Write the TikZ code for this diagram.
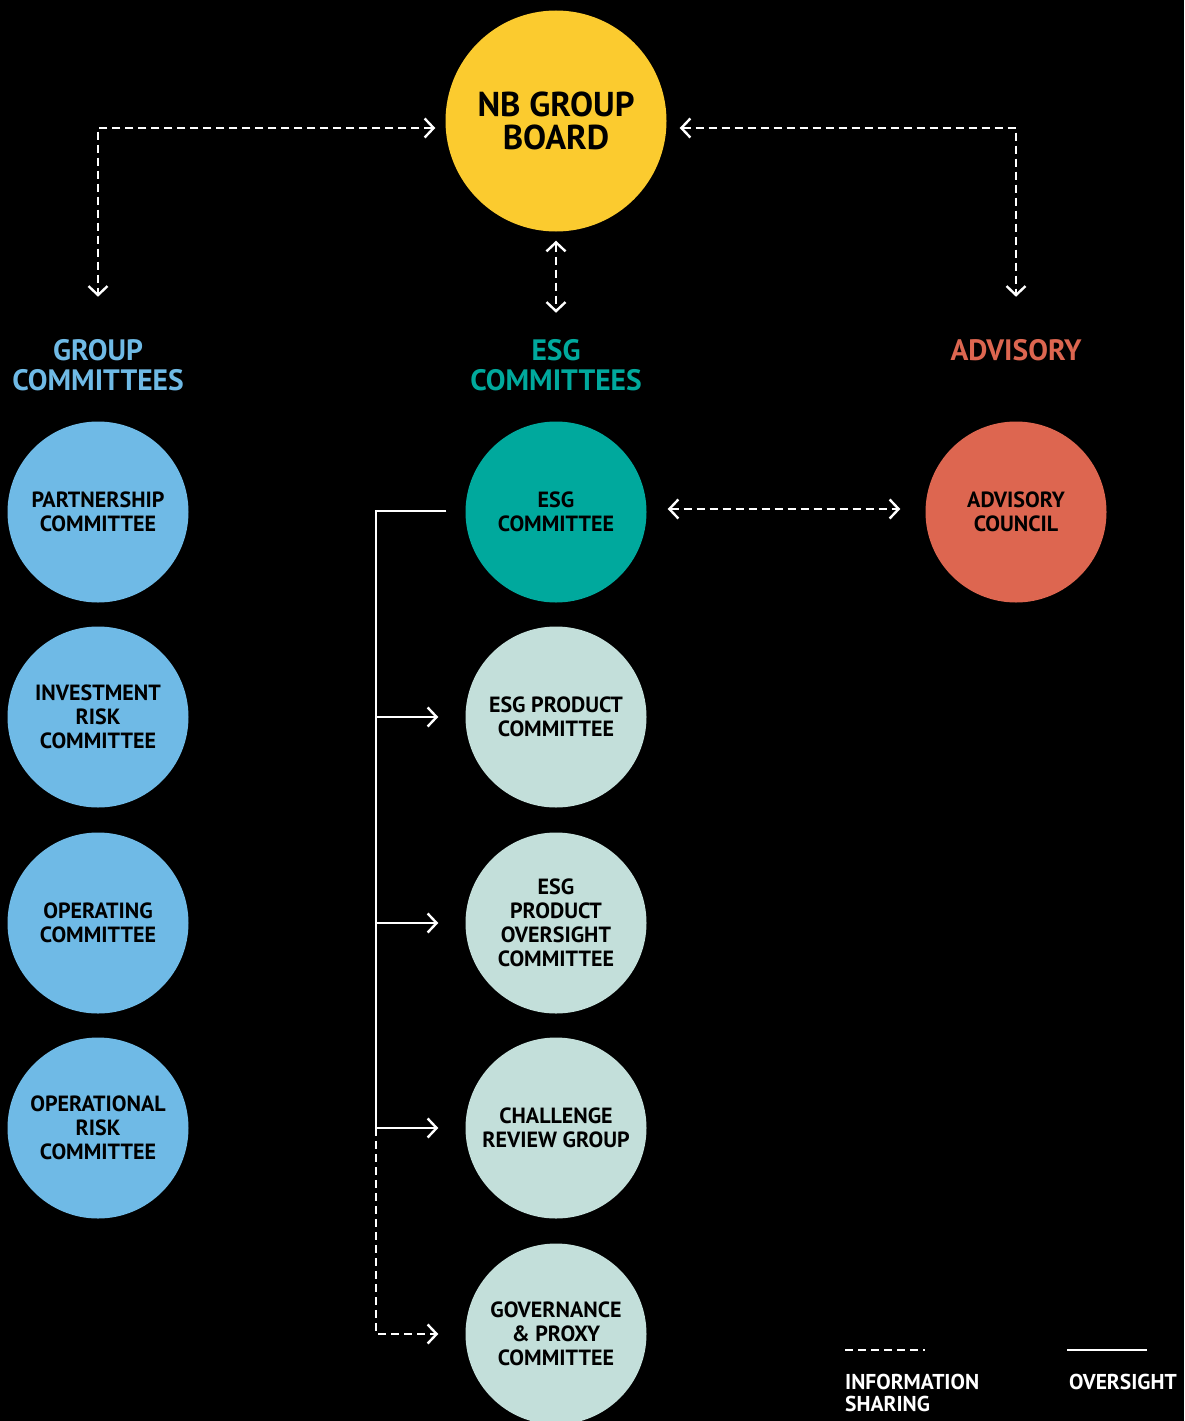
\documentclass[tikz,border=0pt]{standalone}
\usepackage{fontspec}
\setmainfont{PT Sans}
\usetikzlibrary{arrows.meta}

\definecolor{boardyellow}{RGB}{251,203,47}
\definecolor{groupblue}{RGB}{111,186,230}
\definecolor{esgteal}{RGB}{0,169,157}
\definecolor{esgmint}{RGB}{195,223,218}
\definecolor{advred}{RGB}{221,102,80}

\tikzset{every picture/.style={line width=2.4pt}}

\begin{document}
\begin{tikzpicture}[x=1pt,y=1pt,yscale=-1,xscale=1,
  >={Straight Barb[length=9pt,width=19pt,line width=2.4pt]},
  unit/.style={circle,minimum size=181pt,inner sep=0pt,align=center,text=black,
    font=\fontsize{22}{24}\selectfont\bfseries},
  heading/.style={align=center,font=\fontsize{29.5}{30}\selectfont\bfseries},
  info/.style={white,dash pattern=on 8pt off 5pt},
  over/.style={white}]

% background and page size
\fill[black] (0,0) rectangle (1184,1421);
\useasboundingbox (0,0) rectangle (1184,1421);

% board
\node[unit,fill=boardyellow,minimum size=221pt,font=\fontsize{34.5}{33}\selectfont\bfseries] (board) at (556,121) {NB GROUP\\BOARD};

% column headings
\node[heading,text=groupblue] (grouphead) at (98,365) {GROUP\\COMMITTEES};
\node[heading,text=esgteal] (esghead) at (556,365) {ESG\\COMMITTEES};
\node[heading,text=advred] (advhead) at (1016,350) {ADVISORY};

% group committees
\node[unit,fill=groupblue] (partner) at (98,512) {PARTNERSHIP\\COMMITTEE};
\node[unit,fill=groupblue] (invrisk) at (98,717) {INVESTMENT\\RISK\\COMMITTEE};
\node[unit,fill=groupblue] (operating) at (98,923) {OPERATING\\COMMITTEE};
\node[unit,fill=groupblue] (oprisk) at (98,1128) {OPERATIONAL\\RISK\\COMMITTEE};

% esg committees
\node[unit,fill=esgteal] (esg) at (556,512) {ESG\\COMMITTEE};
\node[unit,fill=esgmint] (prod) at (556,717) {ESG PRODUCT\\COMMITTEE};
\node[unit,fill=esgmint] (prodover) at (556,923) {ESG\\PRODUCT\\OVERSIGHT\\COMMITTEE};
\node[unit,fill=esgmint] (crg) at (556,1128) {CHALLENGE\\REVIEW GROUP};
\node[unit,fill=esgmint] (gov) at (556,1334) {GOVERNANCE\\\&~PROXY\\COMMITTEE};

% advisory
\node[unit,fill=advred] (council) at (1016,512) {ADVISORY\\COUNCIL};

% information sharing with the board
\draw[info,<->] ([xshift=-9pt,yshift=7pt]board.west) -| ([yshift=-38pt]grouphead.north);
\draw[info,<->] ([xshift=12pt,yshift=7pt]board.east) -| ([yshift=-38pt]advhead.north);
\draw[info,<->] ([yshift=8pt]board.south) -- ([yshift=-22pt]esghead.north);
\draw[info,<->] ([xshift=20pt,yshift=-3pt]esg.east) -- ([xshift=-24pt,yshift=-3pt]council.west);

% oversight
\coordinate (spinetop) at (376,511);
\draw[over] ([xshift=-18pt,yshift=-1pt]esg.west) -- (spinetop) -- (spinetop |- crg.west);
\foreach \n in {prod,prodover,crg}
  \draw[over,->] (spinetop |- \n.west) -- ([xshift=-26pt]\n.west);
\draw[info,->] (spinetop |- crg.west) |- ([xshift=-26pt]gov.west);

% legend
\coordinate (keyinfo) at (845,1350);
\coordinate (keyover) at (1067,1350);
\draw[info] (keyinfo) -- ++(80,0);
\draw[over] (keyover) -- ++(80,0);
\node[anchor=north west,inner sep=0pt,align=left,text=white,font=\fontsize{21.5}{22}\selectfont\bfseries] (infolabel) at (844,1373) {INFORMATION\\SHARING};
\node[anchor=north west,inner sep=0pt,text=white,font=\fontsize{21.5}{22}\selectfont\bfseries] (overlabel) at (1068,1373) {OVERSIGHT};

\end{tikzpicture}
\end{document}
